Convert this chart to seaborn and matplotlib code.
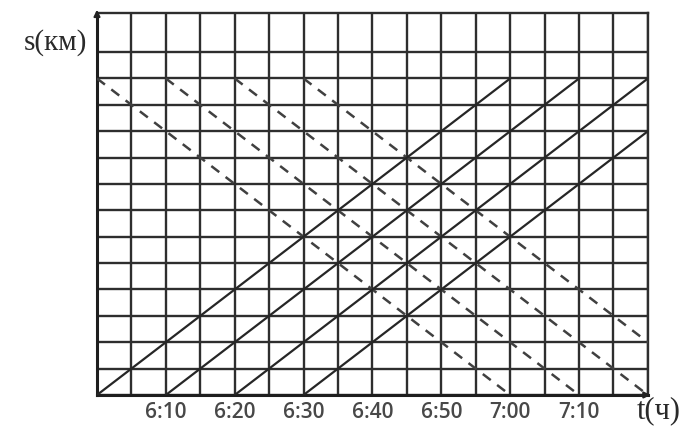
import matplotlib
matplotlib.use("Agg")
import matplotlib.pyplot as plt
import numpy as np
import pandas as pd
import seaborn as sns

# departure times (minutes after 6:00) of the cyclists
forward_starts = [0, 10, 20, 30]    # leave point A (s = 0)
backward_starts = [0, 10, 20, 30]   # leave point B (s = 12 km)
route_km = 12
trip_min = 60

tick_minutes = [10, 20, 30, 40, 50, 60, 70]
tick_labels = ["6:10", "6:20", "6:30", "6:40", "6:50", "7:00", "7:10"]

rows = []
for i, t0 in enumerate(forward_starts):
    rows.append({"trip": "f%d" % i, "kind": "forward", "t": t0, "s": 0})
    rows.append({"trip": "f%d" % i, "kind": "forward", "t": t0 + trip_min, "s": route_km})
for i, t0 in enumerate(backward_starts):
    rows.append({"trip": "b%d" % i, "kind": "backward", "t": t0, "s": route_km})
    rows.append({"trip": "b%d" % i, "kind": "backward", "t": t0 + trip_min, "s": 0})
df = pd.DataFrame(rows)

sns.set_style("white")
plt.rcParams['font.family'] = ['Open Sans', 'DejaVu Sans']

fig = plt.figure(figsize=(6.86, 4.33), dpi=100)
ax = fig.add_axes([0.1414, 0.0878, 0.803, 0.882])

grid_color = "#2e2e2e"
for x in np.arange(0, 81, 5):
    ax.axvline(x, color=grid_color, lw=1.7, zorder=1)
for y in range(0, 14):
    ax.axhline(y, color=grid_color, lw=1.7, zorder=1)

for trip, g in df.groupby("trip"):
    if g["kind"].iloc[0] == "forward":
        sns.lineplot(data=g, x="t", y="s", estimator=None, color="#262626",
                     lw=1.6, ax=ax, zorder=3)
    else:
        sns.lineplot(data=g, x="t", y="s", estimator=None, color="#404040",
                     lw=1.8, ax=ax, zorder=3, dashes=False, linestyle=(0, (4.0, 3.2)))

ax.set_xlim(0, 80)
ax.set_ylim(0, 14.48)
ax.set_xticks(tick_minutes)
ax.set_xticklabels(tick_labels, fontsize=15, color="#484848", fontweight="semibold")
ax.set_yticks([])
ax.tick_params(axis="x", length=0, pad=5)
ax.set_xlabel("")
ax.set_ylabel("")
for side in ["top", "right"]:
    ax.spines[side].set_color(grid_color)
    ax.spines[side].set_linewidth(1.7)
for side in ["left", "bottom"]:
    ax.spines[side].set_color("#1e1e1e")
    ax.spines[side].set_linewidth(2.2)

# axis arrows
ax.annotate("", xy=(0, 1.016), xytext=(0, 0.98), xycoords="axes fraction",
            arrowprops=dict(arrowstyle="-|>", color="#222222", lw=1.5,
                            mutation_scale=9), annotation_clip=False)
ax.annotate("", xy=(1.01, 0), xytext=(0.98, 0), xycoords="axes fraction",
            arrowprops=dict(arrowstyle="-|>", color="#222222", lw=1.5,
                            mutation_scale=9), annotation_clip=False)

fig.text(55 / 686, 1 - 43 / 433, "s(км)", fontsize=21, ha="center", va="center",
         family=["Liberation Serif", "DejaVu Serif"], color="#2a2a2a")
fig.text(659 / 686, 1 - 411 / 433, "t(ч)", fontsize=22, ha="center", va="center",
         family=["Liberation Serif", "DejaVu Serif"], color="#2a2a2a")

fig.savefig("out.png", dpi=100)
